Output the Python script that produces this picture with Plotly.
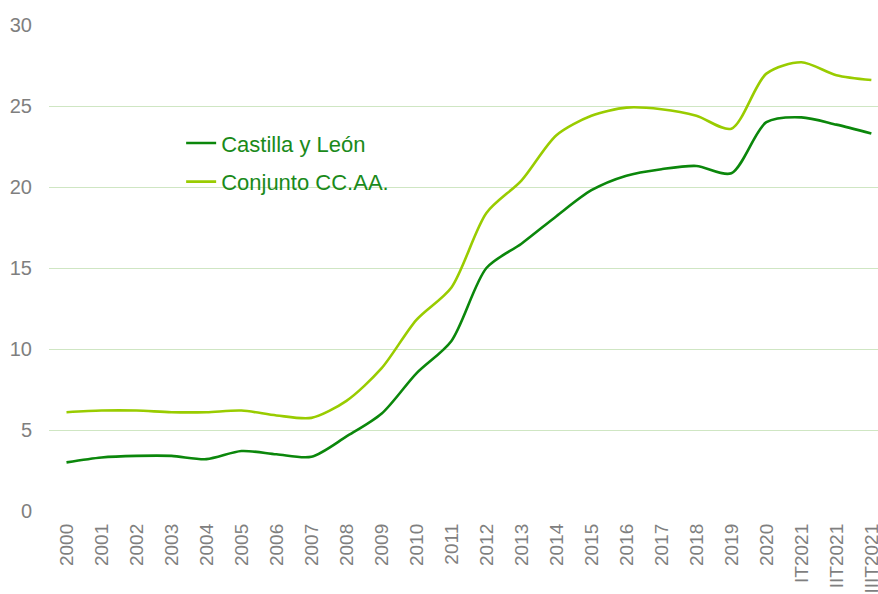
import plotly.graph_objects as go

categories = ["2000", "2001", "2002", "2003", "2004", "2005", "2006", "2007", "2008", "2009",
              "2010", "2011", "2012", "2013", "2014", "2015", "2016", "2017", "2018", "2019",
              "2020", "IT2021", "IIT2021", "IIIT2021"]
castilla_leon = [3.0, 3.3, 3.4, 3.4, 3.2, 3.7, 3.5, 3.35, 4.6, 6.0,
                 8.5, 10.5, 15.0, 16.5, 18.2, 19.8, 20.7, 21.1, 21.3, 20.85,
                 24.0, 24.3, 23.85, 23.3]
conjunto_ccaa = [6.1, 6.2, 6.2, 6.1, 6.1, 6.2, 5.9, 5.75, 6.8, 8.8,
                 11.8, 13.8, 18.4, 20.4, 23.2, 24.4, 24.9, 24.8, 24.4, 23.6,
                 27.0, 27.7, 26.9, 26.6]
y_ticks = [0, 5, 10, 15, 20, 25, 30]

fig = go.Figure()
fig.add_trace(go.Scatter(x=categories, y=castilla_leon, name="Castilla y León", mode="lines",
                         legendgroup="a",
                         line=dict(color="#0b870b", width=2.6, shape="spline", smoothing=0.8)))
fig.add_trace(go.Scatter(x=categories, y=conjunto_ccaa, name="Conjunto CC.AA.", mode="lines",
                         legendgroup="b",
                         line=dict(color="#99cc00", width=2.6, shape="spline", smoothing=0.8)))

fig.update_layout(
    width=878, height=594,
    margin=dict(l=49, r=0, t=25, b=83, autoexpand=False),
    paper_bgcolor="white", plot_bgcolor="white",
    font=dict(family="Liberation Sans, Arial, sans-serif", color="#7f7f7f"),
    showlegend=True,
    legend=dict(x=0.1594, y=0.80, xanchor="left", yanchor="top",
                font=dict(size=22, color="#1a8a1a"), bgcolor="rgba(0,0,0,0)",
                traceorder="grouped", tracegroupgap=7, itemwidth=30),
    xaxis=dict(type="category", categoryorder="array", categoryarray=categories,
               range=[-0.5, 23.19], tickangle=-90, tickfont=dict(size=19, color="#7f7f7f"),
               showgrid=False, showline=False, ticks="", zeroline=False,
               automargin=False, ticklabeloverflow="allow", ticklabelstandoff=8),
    yaxis=dict(range=[0, 30], tickvals=y_ticks, tickfont=dict(size=20, color="#7f7f7f"),
               showgrid=True, gridcolor="#cfe6c3", gridwidth=1, zeroline=False,
               showline=False, ticks="", ticklabelstandoff=16, automargin=False),
)

fig.write_html("out.html", config={"displayModeBar": False},
               post_script="document.body.style.margin='0';document.body.style.overflow='hidden';")
